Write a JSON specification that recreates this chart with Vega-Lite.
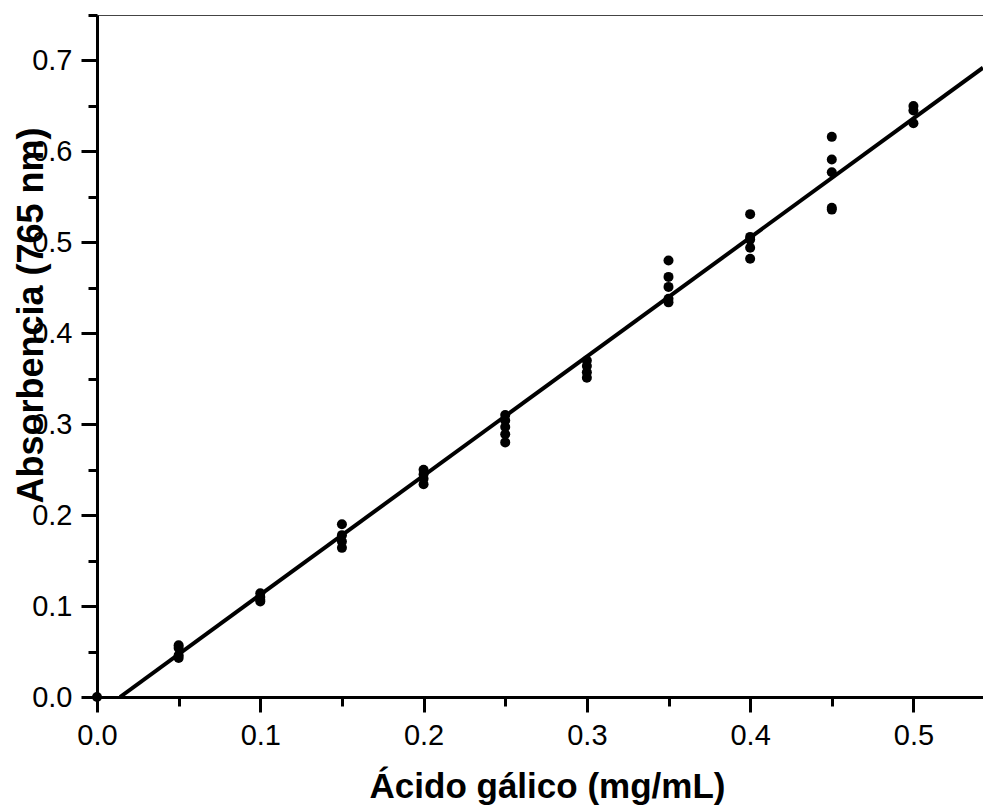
{
  "$schema": "https://vega.github.io/schema/vega-lite/v6.json",
  "width": 886,
  "height": 682,
  "autosize": {"type": "none"},
  "padding": {"left": 97, "top": 15, "right": 0, "bottom": 109},
  "background": "white",
  "config": {
    "view": {"stroke": "#444444", "strokeWidth": 1},
    "axis": {
      "grid": false,
      "domainColor": "black",
      "domainWidth": 3,
      "tickColor": "black",
      "tickWidth": 3,
      "labelFont": "Liberation Sans",
      "labelFontSize": 29,
      "labelColor": "black",
      "titleFont": "Liberation Sans",
      "titleFontSize": 36,
      "titleFontWeight": "bold",
      "titleColor": "black",
      "zindex": 1
    }
  },
  "datasets": {
    "pts": [
      {"c": 0.0, "a": 0.0},
      {"c": 0.05, "a": 0.057}, {"c": 0.05, "a": 0.054}, {"c": 0.05, "a": 0.046}, {"c": 0.05, "a": 0.043},
      {"c": 0.1, "a": 0.114}, {"c": 0.1, "a": 0.110}, {"c": 0.1, "a": 0.107}, {"c": 0.1, "a": 0.105},
      {"c": 0.15, "a": 0.190}, {"c": 0.15, "a": 0.178}, {"c": 0.15, "a": 0.171}, {"c": 0.15, "a": 0.164},
      {"c": 0.2, "a": 0.250}, {"c": 0.2, "a": 0.245}, {"c": 0.2, "a": 0.240}, {"c": 0.2, "a": 0.234},
      {"c": 0.25, "a": 0.310}, {"c": 0.25, "a": 0.304}, {"c": 0.25, "a": 0.297}, {"c": 0.25, "a": 0.289}, {"c": 0.25, "a": 0.280},
      {"c": 0.3, "a": 0.370}, {"c": 0.3, "a": 0.364}, {"c": 0.3, "a": 0.357}, {"c": 0.3, "a": 0.351},
      {"c": 0.35, "a": 0.480}, {"c": 0.35, "a": 0.462}, {"c": 0.35, "a": 0.451}, {"c": 0.35, "a": 0.438}, {"c": 0.35, "a": 0.434},
      {"c": 0.4, "a": 0.531}, {"c": 0.4, "a": 0.506}, {"c": 0.4, "a": 0.503}, {"c": 0.4, "a": 0.494}, {"c": 0.4, "a": 0.482},
      {"c": 0.45, "a": 0.616}, {"c": 0.45, "a": 0.591}, {"c": 0.45, "a": 0.577}, {"c": 0.45, "a": 0.538}, {"c": 0.45, "a": 0.536},
      {"c": 0.5, "a": 0.650}, {"c": 0.5, "a": 0.645}, {"c": 0.5, "a": 0.631}
    ],
    "fit": [
      {"c": 0.0141, "a": 0.0},
      {"c": 0.5426, "a": 0.692}
    ]
  },
  "layer": [
    {
      "data": {"name": "fit"},
      "mark": {"type": "line", "color": "black", "strokeWidth": 4, "clip": true},
      "encoding": {
        "x": {
          "field": "c", "type": "quantitative",
          "scale": {"domain": [0, 0.5426], "nice": false, "zero": false},
          "axis": {
            "title": "Ácido gálico (mg/mL)",
            "titleFontSize": 35,
            "values": [0, 0.05, 0.1, 0.15, 0.2, 0.25, 0.3, 0.35, 0.4, 0.45, 0.5],
            "labelExpr": "abs(datum.value*10 - round(datum.value*10)) < 0.001 ? format(datum.value, '.1f') : ''",
            "tickSize": {"condition": {"test": "abs(datum.value*10 - round(datum.value*10)) < 0.001", "value": 15}, "value": 9},
            "labelPadding": 9,
            "labelFlush": false,
            "labelOverlap": false,
            "titleX": 450,
            "titleY": 100,
            "titleAlign": "center",
            "titleBaseline": "alphabetic",
            "titleAnchor": null
          }
        },
        "y": {
          "field": "a", "type": "quantitative",
          "scale": {"domain": [0, 0.75], "nice": false, "zero": false},
          "axis": {
            "title": "Absorbencia (765 nm)",
            "values": [0, 0.05, 0.1, 0.15, 0.2, 0.25, 0.3, 0.35, 0.4, 0.45, 0.5, 0.55, 0.6, 0.65, 0.7, 0.75],
            "labelExpr": "abs(datum.value*10 - round(datum.value*10)) < 0.001 ? format(datum.value, '.1f') : ''",
            "tickSize": {"condition": {"test": "abs(datum.value*10 - round(datum.value*10)) < 0.001", "value": 16}, "value": 9},
            "labelPadding": 9,
            "labelFlush": false,
            "labelOverlap": false,
            "titleX": -55,
            "titleY": 300,
            "titleAngle": 270,
            "titleAlign": "center",
            "titleBaseline": "alphabetic",
            "titleAnchor": null
          }
        }
      }
    },
    {
      "data": {"name": "pts"},
      "mark": {"type": "circle", "color": "black", "opacity": 1, "size": 100},
      "encoding": {
        "x": {"field": "c", "type": "quantitative"},
        "y": {"field": "a", "type": "quantitative"}
      }
    }
  ]
}
